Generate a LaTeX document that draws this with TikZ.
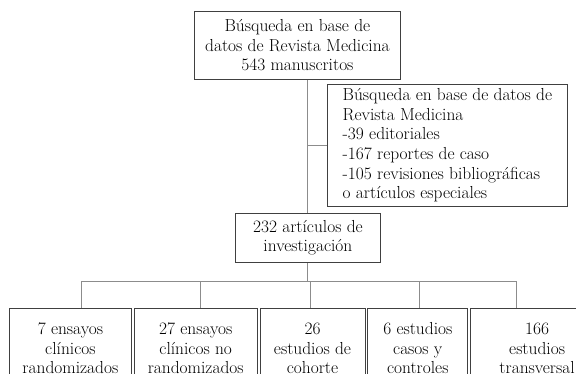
\documentclass[tikz,border=0pt]{standalone}
\usetikzlibrary{positioning}
\definecolor{boxline}{gray}{0.25}
\definecolor{linkline}{gray}{0.55}

\begin{document}
\begin{tikzpicture}[x=1pt, y=-1pt,
  font=\fontsize{17.4}{19.6}\selectfont,
  box/.style={draw=boxline, line width=0.8pt, inner sep=0pt, align=center},
  link/.style={draw=linkline, line width=0.9pt}
]
  \useasboundingbox (0,0) rectangle (576,374);
  \clip (0,0) rectangle (576,374);

  \node[box, minimum width=206, minimum height=68, anchor=north west]
    (search) at (194,11) {Búsqueda en base de\\datos de Revista Medicina\\543 manuscritos};

  \node[box, align=left, minimum width=240, minimum height=122, anchor=north west]
    (excluded) at (327,84) {Búsqueda en base de datos de\\Revista Medicina\\-39 editoriales\\-167 reportes de caso\\-105 revisiones bibliográficas\\o artículos especiales};

  \node[box, minimum width=145, minimum height=49, anchor=north west]
    (result) at (235,213) {232 artículos de\\investigación};

  \node[box, minimum width=122, minimum height=80, anchor=north west]
    (ensayos) at (9,308) {7 ensayos\\clínicos\\randomizados};
  \node[box, minimum width=123, minimum height=80, right=2pt of ensayos]
    (noaleat) {27 ensayos\\clínicos no\\randomizados};
  \node[box, minimum width=105, minimum height=80, right=2pt of noaleat]
    (cohorte) {26\\estudios de\\cohorte};
  \node[box, minimum width=100, minimum height=80, right=2pt of cohorte]
    (casos) {6 estudios\\casos y\\controles};
  \node[box, minimum width=133, minimum height=80, right=2pt of casos]
    (transv) {166\\estudios\\transversal};

  \draw[link] (result.north |- search.south) -- (result.north);
  \draw[link] (excluded.west) -- (excluded.west -| result.north);

  \coordinate[below=19pt of result.south] (bus);
  \draw[link] (result.south) -- (bus);
  \draw[link] ([xshift=11pt]ensayos.north |- bus) -- ([xshift=-20.5pt]transv.north |- bus);
  \foreach \n/\dx in {ensayos/11, noaleat/4.5, cohorte/-2.5, casos/2, transv/-20.5}
    \draw[link] ([xshift=\dx pt]\n.north |- bus) -- ([xshift=\dx pt]\n.north);
\end{tikzpicture}
\end{document}
